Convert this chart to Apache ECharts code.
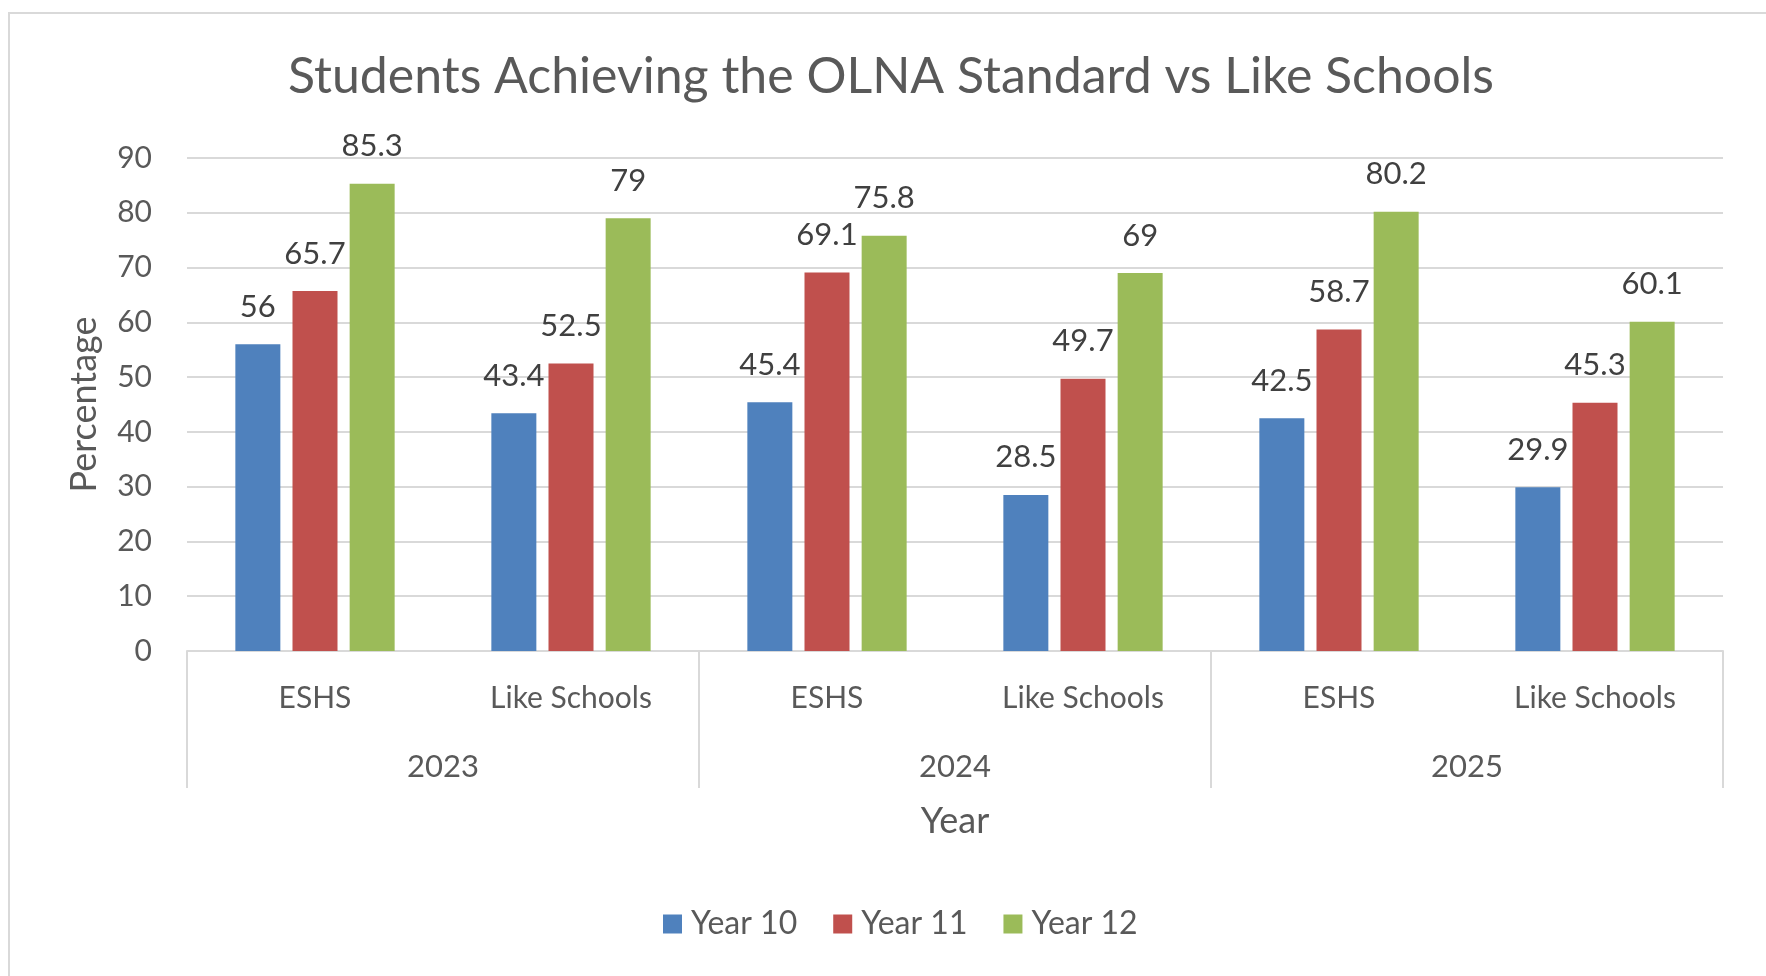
<!DOCTYPE html>
<html style="height: 100%">
<head>
    <meta charset="utf-8">
</head>
<body style="height: 100%; margin: 0; background: #fff">
<div id="container" style="width: 1766px; height: 976px"></div>
<script type="text/javascript" src="https://cdn.jsdelivr.net/npm/echarts@6/dist/echarts.min.js"></script>
<script type="text/javascript">
    var dom = document.getElementById("container");
    var myChart = echarts.init(dom);
    var option;

    // groups along the x axis
    var schools = ['ESHS', 'Like Schools', 'ESHS', 'Like Schools', 'ESHS', 'Like Schools'];
    var years = ['2023', '2024', '2025'];

    // percentage of students achieving the OLNA standard
    var year10 = [56, 43.4, 45.4, 28.5, 42.5, 29.9];
    var year11 = [65.7, 52.5, 69.1, 49.7, 58.7, 45.3];
    var year12 = [85.3, 79, 75.8, 69, 80.2, 60.1];

    var font = 'Lato';
    var txt = '#595959';
    var line = '#d9d9d9';

    function bar(name, data, color) {
        return {
            name: name,
            type: 'bar',
            data: data,
            barWidth: 45,
            barGap: '27%',
            itemStyle: {color: color},
            label: {
                show: true,
                position: 'top',
                distance: 22,
                color: '#404040',
                fontFamily: font,
                fontSize: 31
            }
        };
    }

    option = {
        backgroundColor: '#fff',
        animation: false,
        textStyle: {fontFamily: font},
        graphic: [{
            type: 'rect',
            shape: {x: 9, y: 13, width: 1800, height: 1000},
            style: {fill: 'none', stroke: line, lineWidth: 2},
            silent: true
        }],
        title: {
            text: 'Students Achieving the OLNA Standard vs Like Schools',
            left: 886,
            textAlign: 'center',
            top: 47,
            textStyle: {fontFamily: font, fontSize: 50, fontWeight: 'normal', color: txt}
        },
        legend: {
            data: ['Year 10', 'Year 11', 'Year 12'],
            bottom: 31,
            left: 658,
            itemWidth: 19,
            itemHeight: 19,
            itemGap: 36,
            icon: 'rect',
            textStyle: {fontFamily: font, fontSize: 32, color: txt, padding: [0, 0, 0, 4]}
        },
        grid: {left: 187, right: 43, top: 158, bottom: 325},
        xAxis: [{
            type: 'category',
            data: schools,
            axisLine: {lineStyle: {color: line, width: 2}},
            axisTick: {show: false},
            axisLabel: {interval: 0, margin: 47, verticalAlign: 'middle', color: txt, fontSize: 30, fontFamily: font},
            name: 'Year',
            nameLocation: 'middle',
            nameGap: 170,
            nameTextStyle: {verticalAlign: 'middle', color: txt, fontSize: 36, fontFamily: font}
        }, {
            type: 'category',
            data: years,
            position: 'bottom',
            axisLine: {show: false},
            axisTick: {show: true, interval: 0, length: 137, lineStyle: {color: line, width: 2}},
            axisLabel: {interval: 0, margin: 116, verticalAlign: 'middle', color: txt, fontSize: 31, fontFamily: font}
        }],
        yAxis: {
            type: 'value',
            min: 0,
            max: 90,
            interval: 10,
            axisLine: {show: false},
            axisTick: {show: false},
            splitLine: {lineStyle: {color: line, width: 2}},
            axisLabel: {margin: 35, color: txt, fontSize: 30, fontFamily: font},
            name: 'Percentage',
            nameLocation: 'middle',
            nameGap: 103,
            nameRotate: 90,
            nameTextStyle: {verticalAlign: 'middle', color: txt, fontSize: 36, fontFamily: font}
        },
        series: [
            bar('Year 10', year10, '#4f81bd'),
            bar('Year 11', year11, '#c0504d'),
            bar('Year 12', year12, '#9bbb59')
        ]
    };

    if (option && typeof option === "object") {
        myChart.setOption(option, true);
    }
</script>
</body>
</html>
